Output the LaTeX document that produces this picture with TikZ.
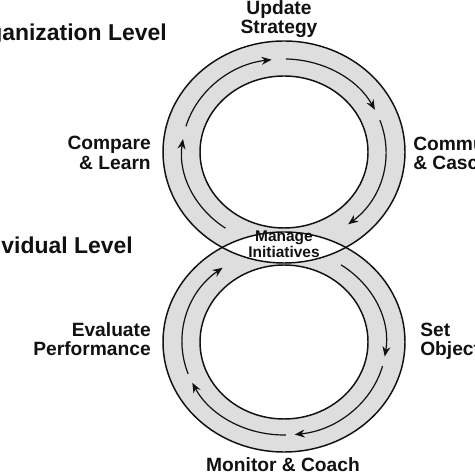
\documentclass[tikz,border=0pt]{standalone}
\usepackage{fontspec}
\setmainfont{Liberation Sans}
\usetikzlibrary{arrows.meta}
\definecolor{Ink}{HTML}{111111}
\definecolor{RingGray}{HTML}{DEDEDE}

\begin{document}
\begin{tikzpicture}[x=0.75pt,y=0.75pt,>={Stealth[length=7.5pt,width=6pt]},
  ringline/.style={Ink,line width=1.1pt},
  flow/.style={->,Ink,line width=0.9pt},
  stage/.style={font=\fontsize{14.4}{14.5}\selectfont\bfseries,text=Ink,inner sep=0pt},
  level/.style={font=\fontsize{17.2}{18}\selectfont\bfseries,text=Ink,inner sep=0pt}]
\useasboundingbox (0,0) rectangle (474,474);
\coordinate (uc) at (284,322);
\coordinate (lc) at (284,132);
% the two rings
\fill[RingGray,even odd rule] (uc) ellipse[x radius=121,y radius=111] (uc) ellipse[x radius=84,y radius=76];
\fill[RingGray,even odd rule] (lc) ellipse[x radius=121,y radius=110] (lc) ellipse[x radius=84,y radius=77];
% where they overlap
\begin{scope}
\clip (uc) ellipse[x radius=121,y radius=111];
\fill[white] (lc) ellipse[x radius=121,y radius=110];
\end{scope}
\draw[ringline] (uc) ellipse[x radius=121,y radius=111];
\draw[ringline] (uc) ellipse[x radius=84,y radius=76];
\draw[ringline] (lc) ellipse[x radius=121,y radius=110];
\draw[ringline] (lc) ellipse[x radius=84,y radius=77];
% flow arrows, upper loop
\foreach \a/\b in {235/172,164/97,89/27,20/-51}
  \draw[flow] (uc) ++(\a:102 and 93) arc[start angle=\a,end angle=\b,x radius=102,y radius=93];
% flow arrows, lower loop
\foreach \a/\b in {56/-9,-15/-84,-89/-154,200/127}
  \draw[flow] (lc) ++(\a:102 and 93) arc[start angle=\a,end angle=\b,x radius=102,y radius=93];
% labels
\node[level,anchor=east] (org) at (167,439) {Organization Level};
\node[level,anchor=east] (ind) at (133,229) {Individual Level};
\node[stage,align=center] (upd) at (279,455) {Update\\Strategy};
\node[stage,align=right,anchor=east] (cmp) at (151,321) {Compare\\\& Learn};
\node[stage,align=left,anchor=west] (com) at (413,321) {Communicate\\\& Cascade};
\node[stage,align=right,anchor=east] (evl) at (151,135) {Evaluate\\Performance};
\node[stage,align=left,anchor=west] (set) at (420,133) {Set\\Objectives};
\node[stage] (mon) at (283,9) {Monitor \& Coach};
\node[stage,align=center,font=\fontsize{11.6}{10.5}\selectfont\bfseries] (mng) at (284,230) {Manage\\Initiatives};
\end{tikzpicture}
\end{document}
